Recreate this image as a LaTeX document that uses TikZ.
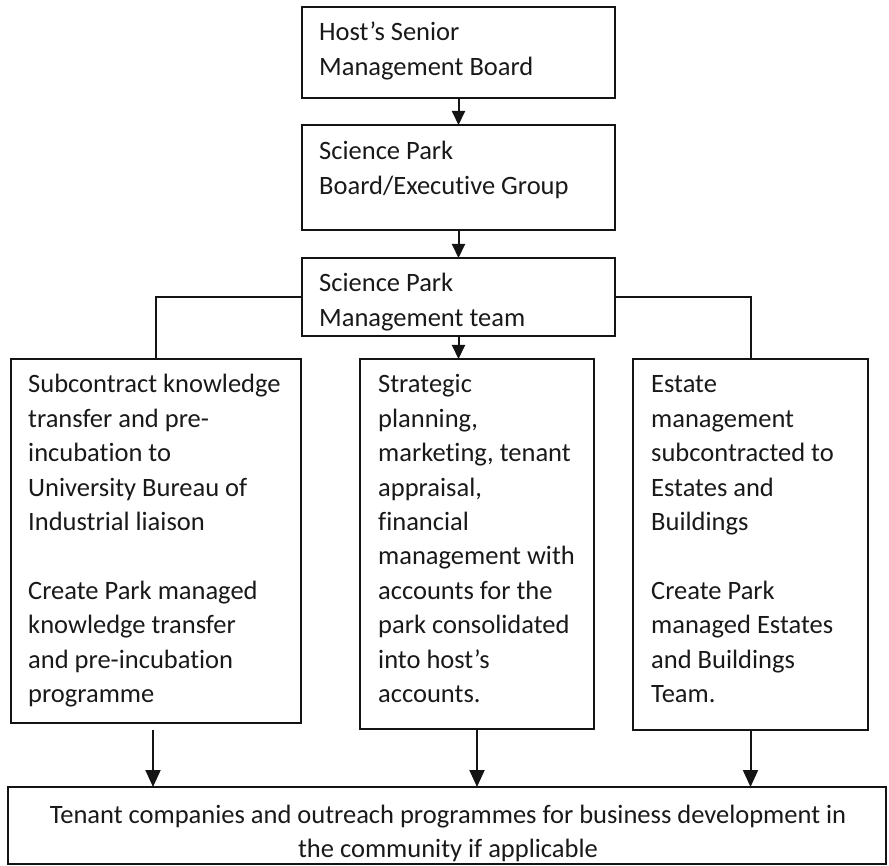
\documentclass[tikz,border=0pt]{standalone}
\usepackage{fontspec}
\setmainfont{Carlito}[Ligatures=NoCommon]
\usetikzlibrary{arrows.meta}

\begin{document}
\begin{tikzpicture}[x=1pt,y=-1pt,
  box/.style={draw=black!92, line width=2.2pt, anchor=north west,
              inner sep=0pt, outer sep=0pt},
  txt/.style={anchor=base west, inner sep=0pt, text=black!90,
              font=\fontsize{26.5pt}{34.4pt}\selectfont},
  link/.style={draw=black!92, line width=2pt},
  arr/.style={link, -{Triangle[length=14pt,width=13pt]}},
  bigarr/.style={link, -{Triangle[length=17pt,width=15pt]}}]

  \useasboundingbox (0,0) rectangle (889,866);

  % chain of governance boxes
  \node[box, minimum width=313pt, minimum height=91pt]  (host)  at (302,7)   {};
  \node[box, minimum width=313pt, minimum height=105pt] (board) at (302,125) {};
  \node[box, minimum width=313pt, minimum height=78pt]  (team)  at (302,258) {};

  % three areas of responsibility
  \node[box, minimum width=290pt, minimum height=364pt] (kt)     at (11,359)  {};
  \node[box, minimum width=234pt, minimum height=370pt] (plan)   at (360,359) {};
  \node[box, minimum width=235pt, minimum height=371pt] (estate) at (633,359) {};

  % outcome
  \node[box, minimum width=878pt, minimum height=77pt]  (tenant) at (8,787)  {};

  % box texts
  \node[txt] (hostT)  at (319,41)  {\parbox[t]{290pt}{Host’s Senior\\Management Board}};
  \node[txt] (boardT) at (319,160) {\parbox[t]{290pt}{Science Park\\Board/Executive Group}};
  \node[txt] (teamT)  at (319,292) {\parbox[t]{290pt}{Science Park\\Management team}};

  \node[txt] (ktT) at (28,393) {\parbox[t]{270pt}{%
    Subcontract knowledge\\transfer and pre-\\incubation to\\University Bureau of\\Industrial liaison\\[34.4pt]%
    Create Park managed\\knowledge transfer\\and pre-incubation\\programme}};

  \node[txt] (planT) at (378,393) {\parbox[t]{215pt}{%
    Strategic\\planning,\\marketing, tenant\\appraisal,\\financial\\management with\\accounts for the\\park consolidated\\into host’s\\accounts.}};

  \node[txt] (estateT) at (651,393) {\parbox[t]{215pt}{%
    Estate\\management\\subcontracted to\\Estates and\\Buildings\\[34.4pt]%
    Create Park\\managed Estates\\and Buildings\\Team.}};

  \node[txt, anchor=base] (tenantT) at (448,823) {\parbox[t]{870pt}{\centering
    Tenant companies and outreach programmes for business development in\\the community if applicable}};

  % connectors
  \draw[arr] (host.south) -- (board.north);
  \draw[arr] (board.south) -- (team.north);
  \draw[arr] (team.south) -- (team.south |- plan.north);
  \draw[link] (team.west) -| (kt.north);
  \draw[link] (team.east) -| (estate.north);

  \draw[bigarr] ([xshift=-3pt,yshift=-7pt]kt.south) -- ([xshift=-3pt]kt.south |- tenant.north);
  \draw[bigarr] (plan.south) -- (plan.south |- tenant.north);
  \draw[bigarr] (estate.south) -- (estate.south |- tenant.north);
\end{tikzpicture}
\end{document}
